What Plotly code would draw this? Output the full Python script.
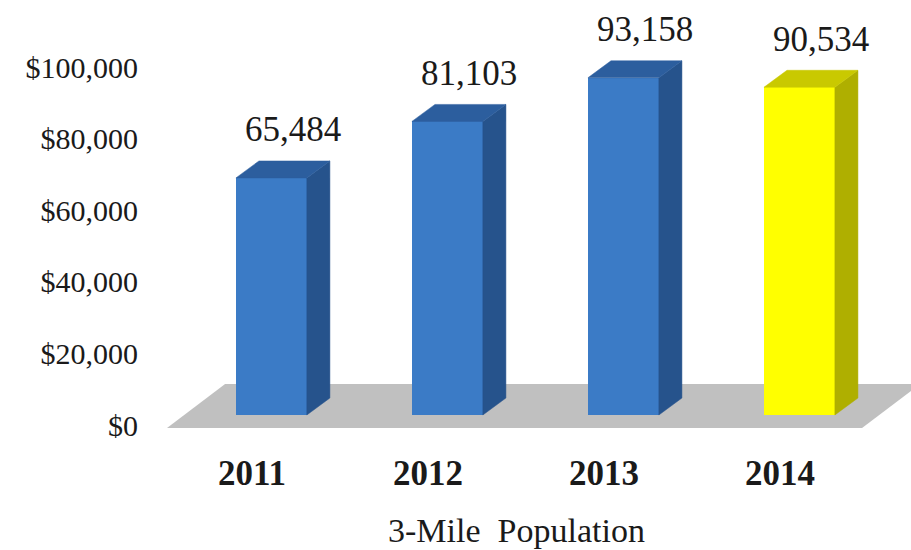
import plotly.graph_objects as go

# ---- data ----
years = ["2011", "2012", "2013", "2014"]
values = [65484, 81103, 93158, 90534]
front_colors = ["#3B7BC6", "#3B7BC6", "#3B7BC6", "#FFFF00"]
side_colors = ["#26538C", "#26538C", "#26538C", "#AFAF00"]
top_colors = ["#2C5E9E", "#2C5E9E", "#2C5E9E", "#C9C900"]
y_ticks = [0, 20000, 40000, 60000, 80000, 100000]
y_tick_labels = [f"${t:,}" for t in y_ticks]
axis_title = "3-Mile  Population"

# ---- geometry (style constants) ----
FONT = "Liberation Serif, Times New Roman, serif"
bar_shift = 0.11      # front face centre offset from category tick
bar_w = 0.403         # front face width (x units)
dx = 0.131            # depth offset, x units
dy = 4696             # depth offset, value units
label_dx = 0.12
label_dy = 8600

xs = list(range(len(years)))
fig = go.Figure()

# side and top faces
for i, v in zip(xs, values):
    xl = i + bar_shift - bar_w / 2
    xr = i + bar_shift + bar_w / 2
    fig.add_trace(go.Scatter(
        x=[xr, xr + dx, xr + dx, xr, xr], y=[0, dy, v + dy, v, 0],
        fill="toself", fillcolor=side_colors[i], mode="lines",
        line=dict(color=side_colors[i], width=0.5), hoverinfo="skip", showlegend=False))
    fig.add_trace(go.Scatter(
        x=[xl, xl + dx, xr + dx, xr, xl], y=[v, v + dy, v + dy, v, v],
        fill="toself", fillcolor=top_colors[i], mode="lines",
        line=dict(color=top_colors[i], width=0.5), hoverinfo="skip", showlegend=False))

# front faces
fig.add_trace(go.Bar(
    x=[i + bar_shift for i in xs], y=values, width=bar_w,
    marker=dict(color=front_colors, line=dict(width=0)),
    hoverinfo="skip", showlegend=False))

# dummy trace for tick axis
fig.add_trace(go.Scatter(x=[0], y=[0], yaxis="y2", mode="markers",
                         marker=dict(opacity=0), hoverinfo="skip", showlegend=False))

# floor
n = len(years)
fl_x0, fl_x1 = -0.483, n - 1 + 0.466
fl_y0, fl_depth_x, fl_depth_y = -3591, 0.33, 12155
fig.add_shape(
    type="path", xref="x", yref="y", layer="below",
    path=(f"M {fl_x0},{fl_y0} L {fl_x0 + fl_depth_x},{fl_y0 + fl_depth_y} "
          f"L {fl_x1 + fl_depth_x},{fl_y0 + fl_depth_y} L {fl_x1},{fl_y0} Z"),
    fillcolor="#C0C0C0", line=dict(width=0))

# value labels
for i, v in zip(xs, values):
    fig.add_annotation(x=i + bar_shift + label_dx, y=v + dy + label_dy,
                       text=f"{v:,}", showarrow=False, xanchor="center", yanchor="middle",
                       font=dict(family=FONT, size=35, color="#1a1a1a"))

# axis title
fig.add_annotation(x=sum(xs) / len(xs), xref="x", y=-0.205, yref="paper",
                   text=axis_title, showarrow=False, xanchor="center", yanchor="middle",
                   font=dict(family=FONT, size=34, color="#1a1a1a"))

fig.update_layout(
    width=911, height=550,
    margin=dict(l=145, r=0, t=0, b=110),
    paper_bgcolor="white", plot_bgcolor="white",
    xaxis=dict(range=[-0.608, 3.744], tickvals=xs, ticktext=[f"<b>{y}</b>" for y in years],
               showgrid=False, zeroline=False, showline=False, ticks="",
               tickfont=dict(family=FONT, size=35, color="#1a1a1a"), ticklabelstandoff=9),
    yaxis=dict(range=[-6906, 114641], visible=False, fixedrange=True),
    yaxis2=dict(range=[-4190, 118715], overlaying="y", side="left", tickvals=y_ticks,
                ticktext=y_tick_labels, showgrid=False, zeroline=False,
                showline=False, ticks="", ticklabelstandoff=6,
                tickfont=dict(family=FONT, size=30, color="#1a1a1a")),
    bargap=0,
)

fig.write_html("out.html")
